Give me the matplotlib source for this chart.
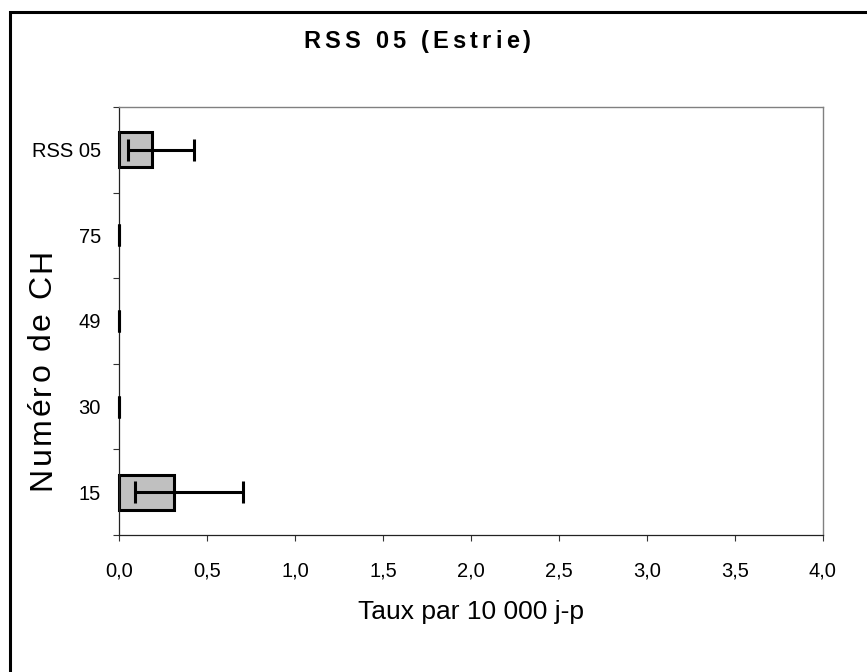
import matplotlib
matplotlib.use("Agg")
import matplotlib.pyplot as plt
from matplotlib.lines import Line2D
from matplotlib.ticker import FixedLocator, NullFormatter, FixedFormatter
from matplotlib.ft2font import FT2Font, LoadFlags
from matplotlib.font_manager import findfont, FontProperties
import numpy as np

# Data (bottom to top)
categories = ["15", "30", "49", "75", "RSS 05"]
rates = [0.313, 0.0, 0.0, 0.0, 0.186]
ci_low = [0.091, 0.0, 0.0, 0.0, 0.053]
ci_high = [0.703, 0.0, 0.0, 0.0, 0.428]
x_ticks = [0.0, 0.5, 1.0, 1.5, 2.0, 2.5, 3.0, 3.5, 4.0]
x_tick_labels = ["0,0", "0,5", "1,0", "1,5", "2,0", "2,5", "3,0", "3,5", "4,0"]
title = "RSS 05 (Estrie)"
y_title = "Numéro de CH"
x_title = "Taux par 10 000 j-p"

FONT = "Liberation Sans"
W, H = 867, 672
DPI = 100
plt.rcParams["font.family"] = [FONT, "DejaVu Sans"]

fig = plt.figure(figsize=(W / DPI, H / DPI), dpi=DPI)
fig.patch.set_facecolor("white")


def px(x, y):
    return x / W, 1 - y / H


def advances(text, prop):
    """Horizontal advance of each character, in pixels."""
    ft = FT2Font(findfont(prop))
    ft.set_size(prop.get_size_in_points(), DPI)
    return [ft.load_char(ord(c), flags=LoadFlags.NO_HINTING).linearHoriAdvance / 65536
            for c in text]


left, right, top, bottom = 119, 822.7, 107, 535
ax = fig.add_axes([left / W, (H - bottom) / H, (right - left) / W, (bottom - top) / H])

ypos = np.arange(len(categories))
bar_lw = [2.2 if v > 0 else 0 for v in rates]
ax.barh(ypos, rates, height=0.41, color="#c0c0c0", edgecolor="black",
        linewidth=bar_lw, zorder=2, clip_on=False)

xerr = np.array([np.subtract(rates, ci_low), np.subtract(ci_high, rates)])
ax.errorbar(rates, ypos, xerr=xerr, fmt="none", ecolor="black", elinewidth=2.2,
            capsize=7.9, capthick=2.2, zorder=3, clip_on=False)

ax.set_xlim(0, 4.0)
ax.set_ylim(-0.5, len(categories) - 0.5)

# x axis
ax.xaxis.set_major_locator(FixedLocator(x_ticks))
ax.xaxis.set_major_formatter(FixedFormatter(x_tick_labels))
ax.tick_params(axis="x", which="major", direction="out", length=4.3, width=0.8,
               color="#333333", labelsize=14.5, pad=15)

# y axis: marks on category boundaries, labels on centres
ax.yaxis.set_major_locator(FixedLocator(np.arange(-0.5, len(categories), 1.0)))
ax.yaxis.set_major_formatter(NullFormatter())
ax.yaxis.set_minor_locator(FixedLocator(ypos))
ax.yaxis.set_minor_formatter(FixedFormatter(categories))
ax.tick_params(axis="y", which="major", direction="out", length=4.3, width=0.8,
               color="#333333")
ax.tick_params(axis="y", which="minor", length=0, labelsize=14.5, pad=13)

for side in ("top", "right"):
    ax.spines[side].set_color("#808080")
    ax.spines[side].set_linewidth(1.0)
for side in ("left", "bottom"):
    ax.spines[side].set_color("#222222")
    ax.spines[side].set_linewidth(0.9)

ax.set_xlabel(x_title, fontsize=19)
ax.xaxis.set_label_coords(0.5, (bottom - 619) / (bottom - top))
ax.xaxis.label.set_va("baseline")

# Chart title, bold with widened letter spacing
tprop = FontProperties(family=FONT, weight="bold", size=17)
xcur = 303.0
for ch, adv in zip(title, advances(title, tprop)):
    fig.text(*px(xcur, 48), ch, fontproperties=tprop, ha="left", va="baseline")
    xcur += adv + 4.2

# Vertical axis title, reading upwards
yprop = FontProperties(family=FONT, size=23)
ycur = 490.0
for ch, adv in zip(y_title, advances(y_title, yprop)):
    fig.text(*px(50, ycur), ch, fontproperties=yprop, rotation=90,
             rotation_mode="anchor", ha="left", va="baseline")
    ycur -= adv + 2.5

# Frame around the chart area
fig.add_artist(Line2D([10 / W, 10 / W, 1.01], [-0.01, 1 - 12.3 / H, 1 - 12.3 / H],
                      transform=fig.transFigure, color="black", linewidth=2.2,
                      solid_joinstyle="miter"))

fig.savefig("out.png", dpi=DPI, facecolor="white")
